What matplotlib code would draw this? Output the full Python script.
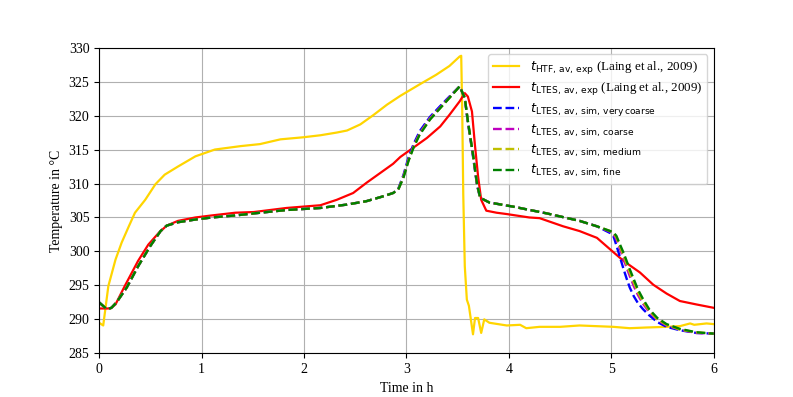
import matplotlib.pyplot as plt

plt.rcParams['font.family'] = 'serif'
plt.rcParams['font.serif'] = ['Liberation Serif']
plt.rcParams['mathtext.fontset'] = 'dejavusans'

# HTF Temperatur (Messung)
t_htf = [0, 0.04, 0.09, 0.16, 0.22, 0.29, 0.35, 0.45, 0.55, 0.64, 0.77, 0.94, 1.13, 1.38,
         1.57, 1.77, 1.99, 2.16, 2.32, 2.42, 2.55, 2.68, 2.81, 2.94, 3.13, 3.29, 3.42, 3.52,
         3.535, 3.545, 3.555, 3.57, 3.59, 3.61, 3.65, 3.67, 3.70, 3.73, 3.76, 3.81, 3.98,
         4.11, 4.17, 4.30, 4.50, 4.69, 5.02, 5.18, 5.34, 5.54, 5.67, 5.77, 5.81, 5.93, 6.0]
T_htf = [289.5, 289.1, 294.9, 298.8, 301.3, 303.7, 305.7, 307.6, 309.9, 311.3, 312.5, 314.0,
         315.0, 315.5, 315.8, 316.5, 316.8, 317.1, 317.5, 317.8, 318.7, 320.1, 321.6, 322.9,
         324.6, 326.0, 327.3, 328.7, 328.8, 320.6, 308.4, 297.8, 292.9, 292.0, 287.8, 290.2,
         290.2, 288.0, 290.0, 289.5, 289.1, 289.2, 288.7, 288.9, 288.9, 289.1, 288.9, 288.7,
         288.8, 288.9, 289.0, 289.4, 289.2, 289.4, 289.3]

# LTES Temperatur (Messung)
t_exp = [0, 0.11, 0.16, 0.25, 0.38, 0.48, 0.58, 0.66, 0.77, 0.94, 1.10, 1.33, 1.51, 1.83,
         2.16, 2.32, 2.48, 2.61, 2.74, 2.87, 2.94, 3.07, 3.20, 3.33, 3.42, 3.52, 3.57, 3.60,
         3.64, 3.67, 3.70, 3.73, 3.78, 3.88, 3.98, 4.20, 4.30, 4.53, 4.69, 4.86, 5.02, 5.12,
         5.28, 5.41, 5.54, 5.67, 5.83, 6.0]
T_exp = [291.6, 291.6, 292.2, 294.9, 298.6, 301.0, 302.7, 303.8, 304.5, 305.0, 305.3, 305.7,
         305.8, 306.4, 306.8, 307.6, 308.6, 310.1, 311.5, 312.9, 313.9, 315.3, 316.7, 318.4,
         320.1, 322.1, 323.3, 322.8, 320.6, 315.5, 311.0, 307.6, 306.0, 305.7, 305.5, 305.0,
         304.9, 303.7, 303.0, 302.0, 299.9, 298.6, 296.9, 295.1, 293.8, 292.7, 292.2, 291.7]

# Simulation, vier Gitter
t_sim = [0, 0.075, 0.12, 0.17, 0.27, 0.38, 0.50, 0.60, 0.66, 0.77, 0.94, 1.10, 1.33, 1.51,
         1.83, 2.16, 2.42, 2.61, 2.77, 2.87, 2.92, 2.97, 3.02, 3.07, 3.13, 3.23, 3.33, 3.42,
         3.52, 3.57, 3.60, 3.65, 3.69, 3.72, 3.81, 4.04, 4.37, 4.69, 4.86, 4.99, 5.02, 5.05,
         5.08, 5.12, 5.15, 5.18, 5.22, 5.26, 5.31, 5.37, 5.45, 5.54, 5.67, 5.83, 6.0]
T_start = [292.5, 291.5, 291.7, 292.5, 294.7, 297.8, 300.8, 303.0, 303.8, 304.3, 304.7, 305.0,
           305.3, 305.6, 306.1, 306.4, 306.9, 307.4, 308.1, 308.6]
T_very_coarse = T_start + [309.2, 311.2, 313.8, 315.8, 317.7, 319.8, 321.4, 322.8, 324.3,
                           322.5, 319.0, 314.0, 309.7, 307.9, 307.2, 306.6, 305.6, 304.5,
                           303.7, 302.7, 302.3, 300.9, 299.4, 297.4, 296.0, 294.7, 293.4,
                           292.4, 291.5, 290.6, 289.6, 288.9, 288.4, 288.0, 287.9]
T_coarse = T_start + [309.1, 311.0, 313.5, 315.5, 317.4, 319.6, 321.2, 322.7, 324.3,
                      322.6, 319.1, 314.2, 309.8, 307.9, 307.2, 306.6, 305.6, 304.5,
                      303.7, 302.9, 302.6, 301.8, 300.6, 298.9, 297.6, 296.4, 294.9,
                      293.6, 292.3, 291.1, 289.9, 289.1, 288.5, 288.0, 287.9]
T_medium = T_start + [309.1, 310.9, 313.4, 315.4, 317.3, 319.5, 321.1, 322.6, 324.3,
                      322.6, 319.2, 314.3, 309.9, 307.9, 307.2, 306.6, 305.6, 304.5,
                      303.7, 303.0, 302.7, 302.1, 300.9, 299.4, 298.1, 296.9, 295.4,
                      294.0, 292.6, 291.3, 290.0, 289.2, 288.5, 288.1, 287.9]
T_fine = T_start + [309.1, 310.8, 313.3, 315.3, 317.2, 319.4, 321.1, 322.6, 324.3,
                    322.6, 319.2, 314.3, 309.9, 307.9, 307.2, 306.6, 305.6, 304.5,
                    303.7, 303.0, 302.8, 302.3, 301.2, 299.8, 298.6, 297.4, 295.9,
                    294.4, 293.0, 291.5, 290.2, 289.3, 288.6, 288.1, 287.9]

fig, ax = plt.subplots(figsize=(7.93, 3.97), dpi=100)
ax.plot(t_htf, T_htf, color='#FFD500', lw=1.6,
        label=r'$t_{\mathrm{HTF,\,av,\,exp}}$ (Laing et al., 2009)')
ax.plot(t_exp, T_exp, color='r', lw=1.6,
        label=r'$t_{\mathrm{LTES,\,av,\,exp}}$ (Laing et al., 2009)')
ax.plot(t_sim, T_very_coarse, 'b--', lw=1.7, label=r'$t_{\mathrm{LTES,\,av,\,sim,\,very\,coarse}}$')
ax.plot(t_sim, T_coarse, 'm--', lw=1.7, label=r'$t_{\mathrm{LTES,\,av,\,sim,\,coarse}}$')
ax.plot(t_sim, T_medium, 'y--', lw=1.7, label=r'$t_{\mathrm{LTES,\,av,\,sim,\,medium}}$')
ax.plot(t_sim, T_fine, 'g--', lw=1.7, label=r'$t_{\mathrm{LTES,\,av,\,sim,\,fine}}$')

ax.set_xlim(0, 6)
ax.set_ylim(285, 330)
ax.set_xlabel('Time in h')
ax.set_ylabel('Temperature in °C')
ax.grid(True)
ax.legend(loc='upper right', fontsize=9.4, labelspacing=0.3)
plt.savefig('out.png')
